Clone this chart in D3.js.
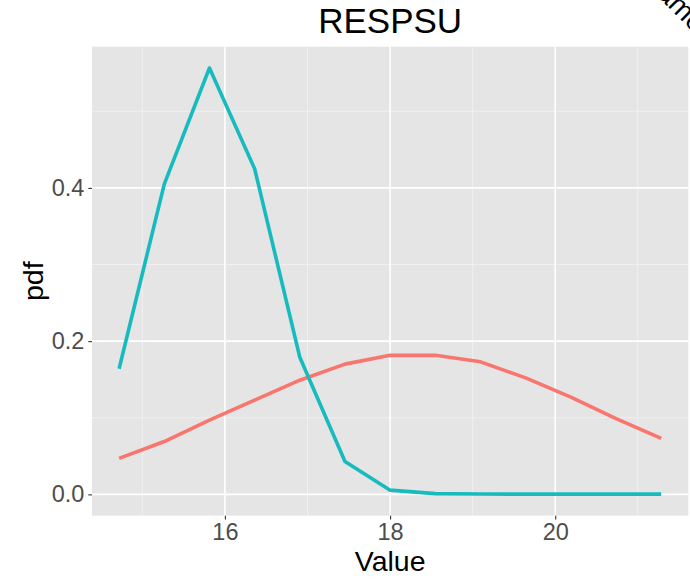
<!DOCTYPE html>
<html>
<head>
<meta charset="utf-8">
<script src="https://cdn.jsdelivr.net/npm/d3@7"></script>
<style>
  html, body { margin: 0; padding: 0; background: #ffffff; }
  svg { display: block; font-family: Arial, "Liberation Sans", sans-serif; }
</style>
</head>
<body>
<svg id="chart" width="690" height="579"></svg>
<script>
// ---- data ----
const xValues = [14.719, 15.266, 15.813, 16.360, 16.907, 17.454, 18.001, 18.548, 19.095, 19.642, 20.189, 20.736, 21.283];
const seriesNames = ["A", "B"];
const seriesA = [0.047, 0.069, 0.097, 0.123, 0.149, 0.170, 0.1815, 0.1815, 0.173, 0.152, 0.127, 0.099, 0.073];
const seriesB = [0.164, 0.405, 0.5565, 0.425, 0.179, 0.043, 0.0055, 0.001, 0.0005, 0.0003, 0.0003, 0.0003, 0.0003];
const seriesColors = ["#F8766D", "#17BBBE"];
const xTicks = [16, 18, 20];
const xMinor = [15, 17, 19, 21];
const yTicks = [0.0, 0.2, 0.4];
const yMinor = [0.1, 0.3, 0.5];
const titleText = "RESPSU";
const xLabel = "Value";
const yLabel = "pdf";
const legendTitle = "name";

// ---- layout ----
const panel = { left: 92, right: 688.3, top: 46.7, bottom: 515.7 };
const svg = d3.select("#chart");

const xExt = d3.extent(xValues);
const xPad = (xExt[1] - xExt[0]) * 0.05;
const x = d3.scaleLinear().domain([xExt[0] - xPad, xExt[1] + xPad]).range([panel.left, panel.right]);
const yMax = d3.max(seriesA.concat(seriesB));
const yPad = yMax * 0.05;
const y = d3.scaleLinear().domain([0 - yPad, yMax + yPad]).range([panel.bottom, panel.top]);

// panel background
svg.append("rect")
  .attr("x", panel.left).attr("y", panel.top)
  .attr("width", panel.right - panel.left).attr("height", panel.bottom - panel.top)
  .attr("fill", "#E5E5E5");

const grid = svg.append("g");
// minor gridlines
grid.selectAll(".vminor").data(xMinor).join("line")
  .attr("x1", d => x(d)).attr("x2", d => x(d))
  .attr("y1", panel.top).attr("y2", panel.bottom)
  .attr("stroke", "#F2F2F2").attr("stroke-width", 0.9);
grid.selectAll(".hminor").data(yMinor).join("line")
  .attr("y1", d => y(d)).attr("y2", d => y(d))
  .attr("x1", panel.left).attr("x2", panel.right)
  .attr("stroke", "#F2F2F2").attr("stroke-width", 0.9);
// major gridlines
grid.selectAll(".vmajor").data(xTicks).join("line")
  .attr("x1", d => x(d)).attr("x2", d => x(d))
  .attr("y1", panel.top).attr("y2", panel.bottom)
  .attr("stroke", "#FFFFFF").attr("stroke-width", 1.6);
grid.selectAll(".hmajor").data(yTicks).join("line")
  .attr("y1", d => y(d)).attr("y2", d => y(d))
  .attr("x1", panel.left).attr("x2", panel.right)
  .attr("stroke", "#FFFFFF").attr("stroke-width", 1.6);

// lines
const line = d3.line().x((d, i) => x(xValues[i])).y(d => y(d));
[seriesA, seriesB].forEach((s, k) => {
  svg.append("path")
    .datum(s)
    .attr("d", line)
    .attr("fill", "none")
    .attr("stroke", seriesColors[k])
    .attr("stroke-width", 3.6)
    .attr("stroke-linejoin", "round");
});

// axes
const xAxis = d3.axisBottom(x).tickValues(xTicks).tickFormat(d3.format("d")).tickSizeInner(3.7).tickSizeOuter(0).tickPadding(4);
const gx = svg.append("g").attr("transform", `translate(0,${panel.bottom})`).call(xAxis);
gx.select(".domain").remove();
gx.selectAll(".tick line").attr("stroke", "#333333").attr("stroke-width", 1.1);
gx.selectAll(".tick text").attr("fill", "#4D4D4D").attr("font-size", "23.5px")
  .attr("font-family", "Arial, 'Liberation Sans', sans-serif");

const yAxis = d3.axisLeft(y).tickValues(yTicks).tickFormat(d3.format(".1f")).tickSizeInner(3.7).tickSizeOuter(0).tickPadding(4);
const gy = svg.append("g").attr("transform", `translate(${panel.left},0)`).call(yAxis);
gy.select(".domain").remove();
gy.selectAll(".tick line").attr("stroke", "#333333").attr("stroke-width", 1.1);
gy.selectAll(".tick text").attr("fill", "#4D4D4D").attr("font-size", "23.5px")
  .attr("font-family", "Arial, 'Liberation Sans', sans-serif");

// titles
const cx = (panel.left + panel.right) / 2;
const cy = (panel.top + panel.bottom) / 2;
svg.append("text").attr("x", cx).attr("y", 33).attr("text-anchor", "middle")
  .attr("font-size", "35px").attr("fill", "#000").text(titleText);
svg.append("text").attr("x", cx).attr("y", 571).attr("text-anchor", "middle")
  .attr("font-size", "28.5px").attr("fill", "#000").text(xLabel);
svg.append("text").attr("transform", `translate(43,${cy}) rotate(-90)`).attr("text-anchor", "middle")
  .attr("font-size", "28.5px").attr("fill", "#000").text(yLabel);

// partially visible rotated legend title at top-right (cut off in the reference as well)
svg.append("text").attr("transform", "translate(645,-16) rotate(45)")
  .attr("font-size", "28px").attr("fill", "#000").text(legendTitle);
</script>
</body>
</html>
